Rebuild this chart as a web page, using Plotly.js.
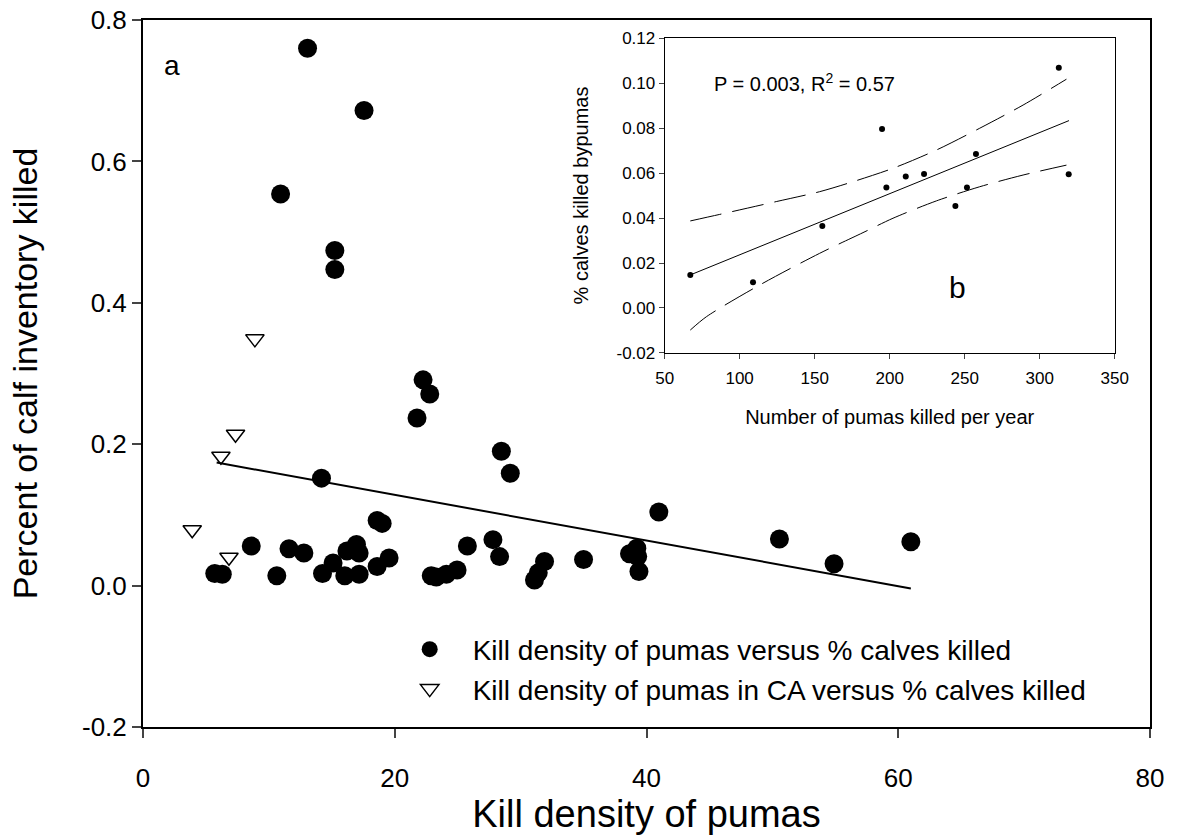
<!DOCTYPE html>
<html>
<head>
<meta charset="utf-8">
<script src="https://cdn.plot.ly/plotly-3.0.1.min.js"></script>
<style>html,body{margin:0;padding:0;background:#fff;}#chart{width:1180px;height:839px;}</style>
</head>
<body>
<div id="chart"></div>
<script>
// ---- Panel a: kill density of pumas vs % calves killed ----
const densityX = [13.07,17.56,10.93,15.24,15.24,22.25,22.78,21.77,28.47,29.18,14.18,40.98,18.6,19.0,8.6,11.6,12.78,5.7,6.3,10.63,14.26,15.1,16.03,16.2,16.96,17.17,17.17,18.6,19.55,22.9,23.3,24.1,24.95,25.77,27.8,28.33,31.1,31.4,31.9,35.0,38.65,39.23,39.3,39.4,50.56,54.9,61.0];
const calvesY  = [0.760,0.672,0.554,0.474,0.447,0.291,0.271,0.237,0.190,0.159,0.152,0.104,0.092,0.088,0.056,0.052,0.046,0.017,0.016,0.014,0.017,0.032,0.014,0.049,0.058,0.046,0.016,0.027,0.039,0.014,0.012,0.016,0.022,0.056,0.065,0.041,0.008,0.018,0.034,0.037,0.045,0.053,0.041,0.020,0.066,0.031,0.062];
const caDensityX = [8.89,7.35,6.19,3.91,6.83];
const caCalvesY  = [0.349,0.214,0.183,0.079,0.040];
const regAX = [5.85,61.0];
const regAY = [0.174,-0.004];

// ---- Panel b: number of pumas killed per year vs % calves killed ----
const pumasKilled = [67.1,108.9,155.1,194.9,197.8,210.7,222.9,243.8,251.5,257.5,312.7,319.3];
const calvesKilledB = [0.0147,0.0114,0.0364,0.0796,0.0536,0.0584,0.0596,0.0453,0.0536,0.0684,0.1068,0.0594];
const regBX = [67.1,319.5];
const regBY = [0.0147,0.0833];
const upperX = [67.1,86.7,124.4,153.3,174.4,202.2,231.1,260.0,288.9,317.8];
const upperY = [0.0387,0.0416,0.0473,0.0517,0.0559,0.0621,0.0702,0.0799,0.0902,0.1017];
const lowerX = [67.1,77.8,113.3,153.3,182.2,202.2,231.1,260.0,288.9,317.8];
const lowerY = [-0.0098,-0.0039,0.0102,0.0243,0.0335,0.0399,0.0476,0.0539,0.0591,0.0635];

// tick labels
const mainXTicks = [0,20,40,60,80];
const mainYTicks = [-0.2,0.0,0.2,0.4,0.6,0.8];
const mainYLabels = ["-0.2","0.0","0.2","0.4","0.6","0.8"];
const insetXTicks = [50,100,150,200,250,300,350];
const insetYTicks = [-0.02,0.00,0.02,0.04,0.06,0.08,0.10,0.12];
const insetYLabels = ["-0.02","0.00","0.02","0.04","0.06","0.08","0.10","0.12"];

const FONT = "Liberation Sans, Arial, sans-serif";

const traces = [
  {x: densityX, y: calvesY, type: 'scatter', mode: 'markers',
   name: 'Kill density of pumas versus % calves killed', legendgroup: 'g1',
   marker: {symbol: 'circle', size: 19, color: '#000'}, xaxis: 'x', yaxis: 'y'},
  {x: caDensityX, y: caCalvesY, type: 'scatter', mode: 'markers',
   name: 'Kill density of pumas in CA versus % calves killed', legendgroup: 'g2',
   marker: {symbol: 'triangle-down-open', size: 16, color: '#000', line: {width: 1.5, color: '#000'}}, xaxis: 'x', yaxis: 'y'},
  {x: regAX, y: regAY, type: 'scatter', mode: 'lines', showlegend: false,
   line: {color: '#000', width: 2}, xaxis: 'x', yaxis: 'y'},
  {x: upperX, y: upperY, type: 'scatter', mode: 'lines', showlegend: false,
   line: {color: '#000', width: 1, dash: '32px,11px', shape: 'spline', smoothing: 0.8}, xaxis: 'x2', yaxis: 'y2'},
  {x: lowerX, y: lowerY, type: 'scatter', mode: 'lines', showlegend: false,
   line: {color: '#000', width: 1, dash: '32px,11px', shape: 'spline', smoothing: 0.8}, xaxis: 'x2', yaxis: 'y2'},
  {x: regBX, y: regBY, type: 'scatter', mode: 'lines', showlegend: false,
   line: {color: '#000', width: 1}, xaxis: 'x2', yaxis: 'y2'},
  {x: pumasKilled, y: calvesKilledB, type: 'scatter', mode: 'markers', showlegend: false,
   marker: {symbol: 'circle', size: 6, color: '#000'}, xaxis: 'x2', yaxis: 'y2'}
];

const layout = {
  width: 1180, height: 839,
  margin: {l: 143, r: 30, t: 20, b: 112},
  paper_bgcolor: '#fff', plot_bgcolor: '#fff',
  font: {family: FONT, color: '#000'},
  showlegend: true,
  legend: {x: 0.242, y: 0.145, xanchor: 'left', yanchor: 'top', bgcolor: 'rgba(0,0,0,0)',
           font: {size: 28, family: FONT, color: '#000'}, traceorder: 'grouped', tracegroupgap: 0,
           itemwidth: 76},
  xaxis: {domain: [0, 1], range: [0, 80], tickvals: mainXTicks, ticks: 'outside', ticklen: 9, tickwidth: 2,
          showline: true, linewidth: 2, linecolor: '#000', mirror: true, showgrid: false, zeroline: false,
          tickfont: {size: 26, family: FONT}, ticklabelstandoff: 18,
          title: {text: 'Kill density of pumas', font: {size: 38, family: FONT}, standoff: 4}},
  yaxis: {domain: [0, 1], range: [-0.2, 0.8], tickvals: mainYTicks, ticktext: mainYLabels, ticks: 'outside', ticklen: 9, tickwidth: 2,
          showline: true, linewidth: 2, linecolor: '#000', mirror: true, showgrid: false, zeroline: false,
          tickfont: {size: 26, family: FONT},
          title: {text: 'Percent of calf inventory killed', font: {size: 34, family: FONT}, standoff: 34}},
  xaxis2: {domain: [0.518, 0.965], anchor: 'y2', range: [50, 350], tickvals: insetXTicks, ticks: 'outside', ticklen: 5, tickwidth: 1,
           showline: true, linewidth: 1, linecolor: '#000', mirror: true, showgrid: false, zeroline: false,
           tickfont: {size: 17, family: FONT}, ticklabelstandoff: 5,
           title: {text: 'Number of pumas killed per year', font: {size: 20, family: FONT}, standoff: 22}},
  yaxis2: {domain: [0.529, 0.9745], anchor: 'x2', range: [-0.02, 0.12], tickvals: insetYTicks, ticktext: insetYLabels, ticks: 'outside', ticklen: 5, tickwidth: 1,
           showline: true, linewidth: 1, linecolor: '#000', mirror: true, showgrid: false, zeroline: false,
           tickfont: {size: 17, family: FONT},
           title: {text: '% calves killed bypumas', font: {size: 20, family: FONT}, standoff: 22}},
  annotations: [
    {xref: 'x', yref: 'y', x: 2.3, y: 0.735, text: 'a', showarrow: false, font: {size: 28, family: FONT}},
    {xref: 'x2', yref: 'y2', x: 143, y: 0.1004, text: 'P = 0.003, R<sup>2</sup> = 0.57', showarrow: false, font: {size: 20, family: FONT}},
    {xref: 'x2', yref: 'y2', x: 245.3, y: 0.0089, text: 'b', showarrow: false, font: {size: 30, family: FONT}}
  ]
};

Plotly.newPlot('chart', traces, layout, {displayModeBar: false, staticPlot: true});
</script>
</body>
</html>
